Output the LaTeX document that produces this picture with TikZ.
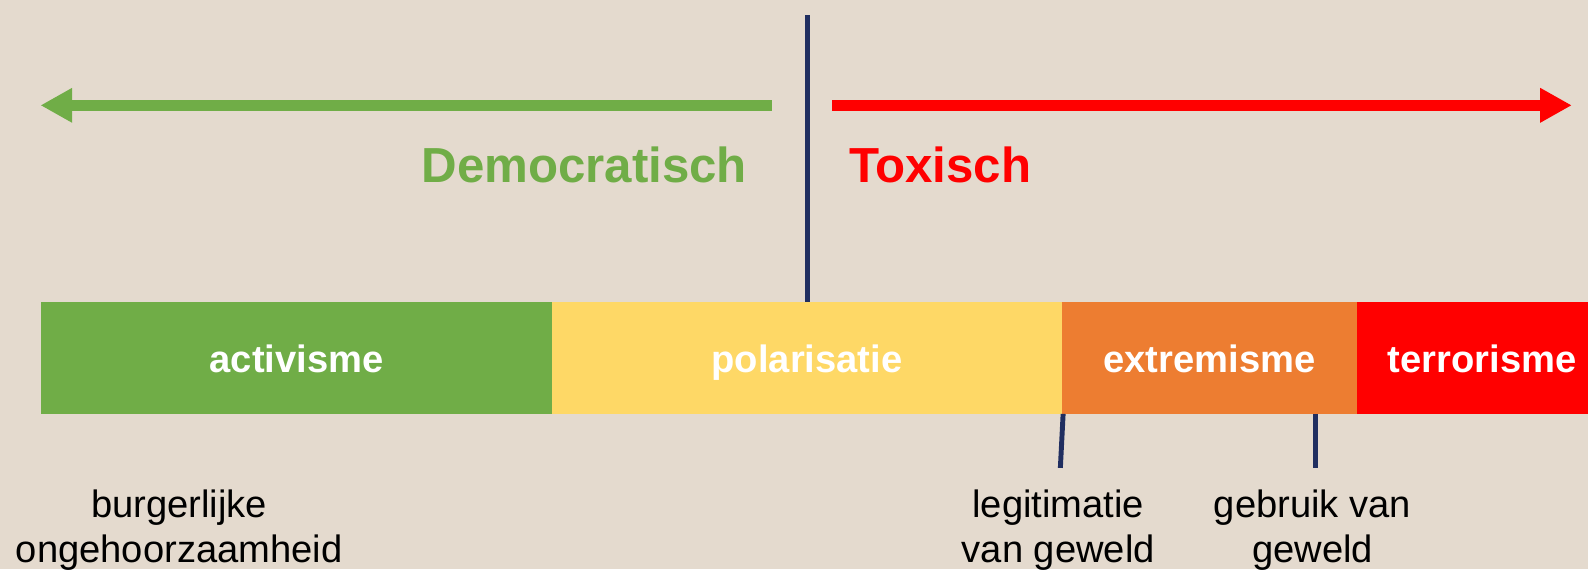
\documentclass[tikz,border=0pt]{standalone}
\usepackage{fontspec}
\setmainfont{Liberation Sans}
\usetikzlibrary{arrows.meta}
\definecolor{bg}{RGB}{228,218,206}
\definecolor{cgreen}{RGB}{112,173,71}
\definecolor{cyellow}{RGB}{254,216,102}
\definecolor{corange}{RGB}{237,125,49}
\definecolor{cred}{RGB}{255,0,0}
\definecolor{navy}{RGB}{32,46,96}
\begin{document}
\begin{tikzpicture}[x=0.020254cm,y=-0.020254cm,
  seg/.style={draw=none,minimum height=110*0.020254cm,inner sep=0pt,anchor=north west,
    text height=16.5pt,text depth=0pt,
    text=white,font=\bfseries\fontsize{21.7}{26}\selectfont},
  bigarrow/.style={line width=6.3pt,-{Triangle[length=18pt,width=18.5pt]}},
  head/.style={font=\bfseries\fontsize{28}{34}\selectfont},
  lbl/.style={align=center,font=\fontsize{21.7}{25.5}\selectfont,inner sep=0pt},
  tick/.style={navy,line width=2.8pt}]
\fill[bg] (0,0) rectangle (1568,562);
\useasboundingbox (0,0) rectangle (1568,562);
% bar
\node[seg,fill=cgreen,minimum width=505*0.020254cm] (act) at (40,298) {activisme};
\node[seg,fill=cyellow,minimum width=503*0.020254cm] (pol) at (545,298) {polarisatie};
\node[seg,fill=corange,minimum width=292*0.020254cm] (ext) at (1048,298) {extremisme};
\node[seg,fill=cred,minimum width=246*0.020254cm] (ter) at (1340,298) {terrorisme};
% arrows
\coordinate (gs) at (762,104);
\coordinate (ge) at (40,104);
\coordinate (rs) at (822,104);
\coordinate (re) at (1552,104);
\draw[bigarrow,cgreen] (gs) -- (ge);
\draw[bigarrow,cred] (rs) -- (re);
% divider
\coordinate (dtop) at (797,15);
\draw[tick] (dtop) -- (dtop |- pol.north);
% headings
\node[head,text=cgreen,anchor=east,inner sep=0pt] (dem) at (738,163) {Democratisch};
\node[head,text=cred,anchor=west,inner sep=0pt] (tox) at (838,163) {Toxisch};
% ticks
\coordinate (t1) at (1047,462);
\coordinate (t2) at (1299,462);
\draw[tick] ([xshift=1pt]ext.south west) -- (t1);
\draw[tick] (ext.south west -| t2) -- (t2);
% lower labels
\node[lbl,anchor=north] (burg) at (177,483.5) {burgerlijke\\ongehoorzaamheid};
\node[lbl,anchor=north] (legit) at (1045,483.5) {legitimatie\\van geweld};
\node[lbl,anchor=north] (gebr) at (1296,483.5) {gebruik van\\geweld};
\end{tikzpicture}
\end{document}
